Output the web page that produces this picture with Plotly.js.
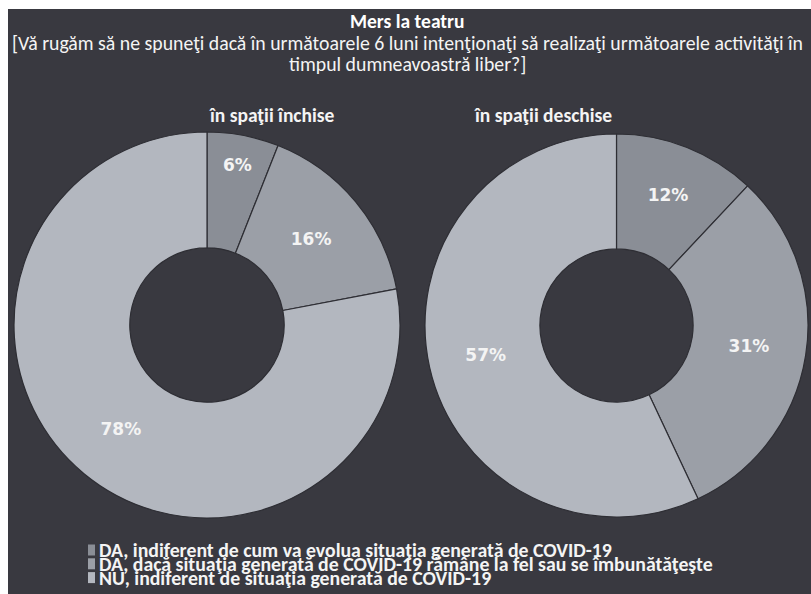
<!DOCTYPE html>
<html>
<head>
<meta charset="utf-8">
<script src="https://cdn.plot.ly/plotly-3.0.1.min.js"></script>
<style>html,body{margin:0;padding:0;background:#fff;}</style>
</head>
<body>
<div id="chart" style="width:811px;height:594px;"></div>
<script>
const labels = [
  "DA, indiferent de cum va evolua situaţia generată de COVID-19",
  "DA, dacă situaţia generată de COVID-19 rămâne la fel sau se îmbunătăţeşte",
  "NU, indiferent de situaţia generată de COVID-19"
];
const closedValues = [6, 16, 78];
const openValues = [12, 31, 57];
const groupTitles = ["în spaţii închise", "în spaţii deschise"];
const chartTitle = "Mers la teatru";
const subtitleLines = [
  "[Vă rugăm să ne spuneţi dacă în următoarele 6 luni intenţionaţi să realizaţi următoarele activităţi în",
  "timpul dumneavoastră liber?]"
];

const colors = ["#8a8e96", "#9b9fa7", "#b3b7bf"];
const W = 811, H = 594;
const FONT = "Carlito, 'Liberation Sans Narrow', 'Liberation Sans', sans-serif";
const NUMFONT = "'DejaVu Sans', Verdana, sans-serif";
const px = x => x / W;
const py = y => 1 - y / H;

function pie(values, x0, x1, y0, y1) {
  return {
    type: "pie",
    labels: labels,
    values: values,
    sort: false,
    direction: "clockwise",
    rotation: 0,
    hole: 0.4,
    marker: {colors: colors, line: {color: "#2e2e34", width: 1.2}},
    texttemplate: "%{value}%",
    textposition: "inside",
    insidetextorientation: "horizontal",
    textfont: {family: NUMFONT, size: 17, color: "#f4f4f4", weight: "bold"},
    hoverinfo: "label+percent",
    showlegend: false,
    domain: {x: [px(x0), px(x1)], y: [py(y1), py(y0)]}
  };
}

const data = [
  pie(closedValues, 14, 400, 132, 518),
  pie(openValues, 425, 808, 134, 517)
];

const txt = (text, x, y, size, extra) => Object.assign({
  text: text, x: px(x), y: py(y), xref: "paper", yref: "paper", showarrow: false,
  yanchor: "middle", font: {family: FONT, size: size, color: "#f4f4f4"}
}, extra || {});

const annotations = [
  txt("<b>" + chartTitle + "</b>", 407, 21, 19.5, {font: {family: FONT, size: 19.5, color: "#ffffff"}}),
  txt(subtitleLines[0], 407, 43, 19.8),
  txt(subtitleLines[1], 407, 63.5, 19.8),
  txt("<b>" + groupTitles[0] + "</b>", 207, 115, 19.5),
  txt("<b>" + groupTitles[1] + "</b>", 614, 115, 19.5)
];
const shapes = [
  {type: "rect", xref: "paper", yref: "paper", x0: px(8), x1: px(811), y0: py(594), y1: py(9),
   fillcolor: "#393940", line: {width: 0}, layer: "below"}
];
labels.forEach((lab, i) => {
  const yc = 550 + i * 13.8;
  annotations.push(txt("<b>" + lab + "</b>", 97, yc, 19.8, {xanchor: "left"}));
  shapes.push({type: "rect", xref: "paper", yref: "paper", x0: px(88), x1: px(95), y0: py(yc + 5.5), y1: py(yc - 5.5),
    fillcolor: colors[i], line: {width: 0}, layer: "above"});
});

const layout = {
  width: W, height: H,
  margin: {l: 0, r: 0, t: 0, b: 0},
  paper_bgcolor: "#ffffff",
  annotations: annotations,
  shapes: shapes,
  showlegend: false
};
Plotly.newPlot("chart", data, layout, {displayModeBar: false, staticPlot: true});
</script>
</body>
</html>
